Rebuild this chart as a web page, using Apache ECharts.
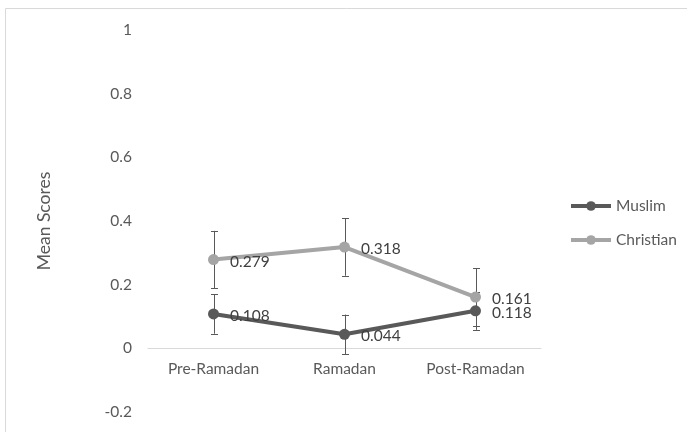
<!DOCTYPE html>
<html><head><meta charset="utf-8">
<script src="https://cdn.jsdelivr.net/npm/echarts@6/dist/echarts.min.js"></script>
<style>html,body{margin:0;padding:0;background:#fff}#c{width:687px;height:432px}</style>
</head><body><div id="c"></div>
<script>
var categories = ['Pre-Ramadan', 'Ramadan', 'Post-Ramadan'];
var muslim = [0.108, 0.044, 0.118];
var christian = [0.279, 0.318, 0.161];
var muslimErr = [0.062, 0.062, 0.06];
var christianErr = [0.09, 0.09, 0.09];
var yTicks = [-0.2, 0, 0.2, 0.4, 0.6, 0.8, 1];

var FONT = 'Lato';
var FS = 15.5;
var GRID_TOP = 30, GRID_BOTTOM = 20, H = 432;
var plotH = H - GRID_TOP - GRID_BOTTOM;
var yMin = yTicks[0], yMax = yTicks[yTicks.length - 1];
var zeroOffset = -plotH * (0 - yMin) / (yMax - yMin);

function errData(vals, errs) {
  return vals.map(function (v, i) { return [i, v - errs[i], v + errs[i]]; });
}
function errSeries(vals, errs) {
  return {
    type: 'custom', silent: true, z: 1,
    data: errData(vals, errs),
    renderItem: function (params, api) {
      var lo = api.coord([api.value(0), api.value(1)]);
      var hi = api.coord([api.value(0), api.value(2)]);
      var x = Math.round(lo[0]) + 0.5, w = 3.5;
      var st = { stroke: '#595959', lineWidth: 1 };
      return { type: 'group', children: [
        { type: 'line', shape: { x1: x, y1: lo[1], x2: x, y2: hi[1] }, style: st },
        { type: 'line', shape: { x1: x - w, y1: Math.round(lo[1]) + 0.5, x2: x + w, y2: Math.round(lo[1]) + 0.5 }, style: st },
        { type: 'line', shape: { x1: x - w, y1: Math.round(hi[1]) + 0.5, x2: x + w, y2: Math.round(hi[1]) + 0.5 }, style: st }
      ]};
    }
  };
}
function lbl() {
  return { show: true, position: 'right', distance: 11, color: '#404040', fontSize: FS, fontFamily: FONT, offset: [0, 2],
    formatter: function (p) { return p.value.toFixed(3); } };
}
var chart = echarts.init(document.getElementById('c'));
chart.setOption({
  animation: false,
  textStyle: { fontFamily: FONT },
  graphic: [{ type: 'rect', shape: { x: 5.5, y: 8.5, width: 700, height: 460 }, style: { fill: 'none', stroke: '#d9d9d9', lineWidth: 1 }, silent: true }],
  grid: { left: 148, right: 146, top: GRID_TOP, bottom: GRID_BOTTOM, containLabel: false, outerBoundsMode: 'none' },
  legend: {
    orient: 'vertical', left: 564, top: 193, itemGap: 18, itemWidth: 40, itemHeight: 12,
    lineStyle: { width: 4 },
    textStyle: { color: '#595959', fontSize: FS, fontFamily: FONT },
    data: ['Muslim', 'Christian']
  },
  xAxis: {
    type: 'category', data: categories, offset: zeroOffset,
    axisLine: { onZero: false, lineStyle: { color: '#d9d9d9', width: 1 } },
    axisTick: { show: false },
    axisLabel: { color: '#595959', fontSize: FS, margin: 13, fontFamily: FONT }
  },
  yAxis: {
    type: 'value', min: yMin, max: yMax, interval: 0.2,
    name: 'Mean Scores', nameLocation: 'middle', nameGap: 95, nameRotate: 90,
    nameTextStyle: { color: '#595959', fontSize: 17.5, fontFamily: FONT },
    axisLine: { show: false }, axisTick: { show: false }, splitLine: { show: false },
    axisLabel: { color: '#595959', fontSize: FS, margin: 16, fontFamily: FONT,
      formatter: function (v) { return String(Math.round(v * 10) / 10); } }
  },
  series: [
    errSeries(muslim, muslimErr),
    errSeries(christian, christianErr),
    {
      name: 'Muslim', type: 'line', data: muslim, z: 3,
      symbol: 'circle', symbolSize: 11,
      lineStyle: { color: '#595959', width: 4 },
      itemStyle: { color: '#595959' },
      label: lbl()
    },
    {
      name: 'Christian', type: 'line', data: christian, z: 2,
      symbol: 'circle', symbolSize: 11,
      lineStyle: { color: '#a5a5a5', width: 4 },
      itemStyle: { color: '#a5a5a5' },
      label: lbl()
    }
  ]
});
</script></body></html>
